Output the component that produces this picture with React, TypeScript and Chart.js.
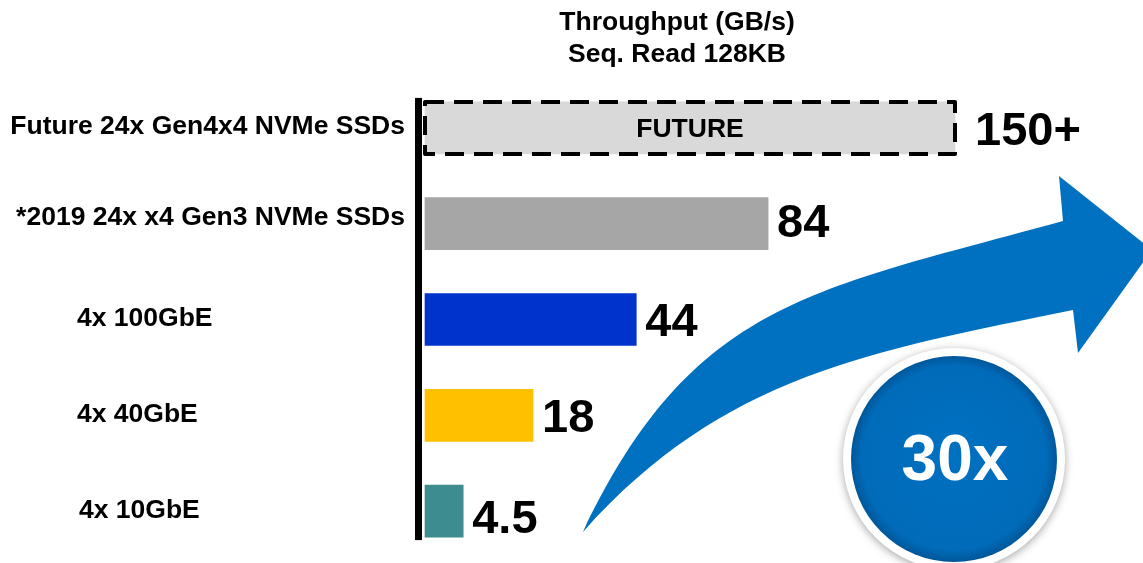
import React, { useEffect, useRef } from 'react';
import { Chart, registerables, LinearScale } from 'chart.js';

// ---------------- data ----------------
const categories = [
  'Future 24x Gen4x4 NVMe SSDs',
  '*2019 24x x4 Gen3 NVMe SSDs',
  '4x 100GbE',
  '4x 40GbE',
  '4x 10GbE',
];
const throughputGBs = [150, 84, 44, 18, 4.5];
const valueLabels = ['150+', '84', '44', '18', '4.5'];
const barColors = ['#D9D9D9', '#A6A6A6', '#0033CC', '#FFC000', '#3D8C8F'];
const titleLines = ['Throughput (GB/s)', 'Seq. Read 128KB'];
const futureTag = 'FUTURE';
const speedupLabel = '30x';

// ---------------- styles ----------------
const FONT = "'Liberation Sans', Arial, Helvetica, sans-serif";
const CAP = 0.716; // cap-height ratio of Arial / Liberation Sans
const SCALE_EXPONENT = 0.75; // the slide's bars grow sub-linearly with the value
const labelAnchors = [
  { x: 405, align: 'right' },
  { x: 405, align: 'right' },
  { x: 77, align: 'left' },
  { x: 77, align: 'left' },
  { x: 79, align: 'left' },
];

// A power-law value axis (hidden), so the bars follow the slide's compressed lengths
class PowerScale extends LinearScale {
  static id = 'power';
  static defaults = {};
  _f(v: number) {
    return Math.sign(v) * Math.pow(Math.abs(v), SCALE_EXPONENT);
  }
  getPixelForValue(value: number) {
    if (value === null || value === undefined || isNaN(value)) return NaN;
    const a = this._f(this.min);
    const b = this._f(this.max);
    return this.getPixelForDecimal((this._f(value) - a) / (b - a));
  }
  getValueForPixel(pixel: number) {
    const a = this._f(this.min);
    const b = this._f(this.max);
    const fv = a + this.getDecimalForPixel(pixel) * (b - a);
    return Math.sign(fv) * Math.pow(Math.abs(fv), 1 / SCALE_EXPONENT);
  }
}

Chart.register(...registerables, PowerScale);

function capText(ctx: CanvasRenderingContext2D, text: string, x: number, cy: number, size: number, align: CanvasTextAlign, color: string) {
  ctx.font = `bold ${size}px ${FONT}`;
  ctx.textAlign = align;
  ctx.textBaseline = 'alphabetic';
  ctx.fillStyle = color;
  ctx.fillText(text, x, cy + (CAP * size) / 2);
}

const decorations = {
  id: 'slideDecorations',
  afterDatasetsDraw(chart: any) {
    const ctx: CanvasRenderingContext2D = chart.ctx;
    const area = chart.chartArea;
    const meta = chart.getDatasetMeta(0);
    const bars = meta.data.map((el: any) => el.getProps(['x', 'y', 'base', 'height'], true));
    ctx.save();

    // title
    capText(ctx, titleLines[0], 677, 21, 26.5, 'center', '#000');
    capText(ctx, titleLines[1], 677, 53, 26.5, 'center', '#000');

    // vertical axis line
    const first = bars[0];
    const last = bars[bars.length - 1];
    ctx.fillStyle = '#000';
    ctx.fillRect(area.left - 10, first.y - first.height / 2 - 4, 7, last.y + last.height / 2 - (first.y - first.height / 2) + 7);

    // dashed outline of the future bar
    const fb = bars[0];
    ctx.setLineDash([19, 10]);
    ctx.lineWidth = 4;
    ctx.strokeStyle = '#000';
    ctx.lineJoin = 'round';
    ctx.strokeRect(fb.base, fb.y - fb.height / 2, fb.x - fb.base, fb.height);
    ctx.setLineDash([]);
    capText(ctx, futureTag, (fb.base + fb.x) / 2, fb.y, 26.5, 'center', '#000');

    // category labels
    const yScale = chart.scales.y;
    categories.forEach((c, i) => {
      const cy = yScale.getPixelForValue(i) - (i === 1 ? 8 : 3);
      capText(ctx, c, labelAnchors[i].x, cy, 26.5, labelAnchors[i].align as CanvasTextAlign, '#000');
    });

    // value labels
    bars.forEach((b: any, i: number) => {
      capText(ctx, valueLabels[i], b.x + (i === 0 ? 20 : 9), b.y + (i === 4 ? 5 : 0) - (i === 1 ? 4 : 0), 47, 'left', '#000');
    });

    // curved growth arrow
    ctx.beginPath();
    ctx.moveTo(583, 532);
    ctx.bezierCurveTo(693, 301, 813, 290, 1063, 221);
    ctx.lineTo(1059, 176);
    ctx.lineTo(1152, 250);
    ctx.lineTo(1078, 353);
    ctx.lineTo(1073, 310);
    ctx.bezierCurveTo(873, 351, 723, 374.5, 583, 532);
    ctx.closePath();
    ctx.fillStyle = '#0070C0';
    ctx.fill();

    // 30x badge
    const cx = 954, cy = 459;
    ctx.save();
    ctx.shadowColor = 'rgba(0,0,0,0.35)';
    ctx.shadowBlur = 8;
    ctx.shadowOffsetY = 2;
    ctx.beginPath();
    ctx.arc(cx, cy, 111, 0, Math.PI * 2);
    ctx.fillStyle = '#FFFFFF';
    ctx.fill();
    ctx.restore();
    const g = ctx.createRadialGradient(cx, cy - 10, 10, cx, cy, 103);
    g.addColorStop(0, '#0070C0');
    g.addColorStop(0.88, '#006BB9');
    g.addColorStop(1, '#00579A');
    ctx.beginPath();
    ctx.arc(cx, cy, 103, 0, Math.PI * 2);
    ctx.fillStyle = g;
    ctx.fill();
    capText(ctx, speedupLabel, cx + 1, cy - 2, 64, 'center', '#FFFFFF');

    ctx.restore();
  },
};

export default function App() {
  const ref = useRef<HTMLCanvasElement>(null);
  useEffect(() => {
    const chart = new Chart(ref.current as HTMLCanvasElement, {
      type: 'bar',
      data: {
        labels: categories,
        datasets: [
          {
            data: throughputGBs,
            backgroundColor: barColors,
            borderWidth: 0,
            barThickness: 52,
            clip: false as any,
          },
        ],
      },
      options: {
        indexAxis: 'y',
        animation: false,
        responsive: false,
        events: [],
        layout: { padding: { left: 425, right: 188, top: 80, bottom: 4 } },
        plugins: {
          legend: { display: false },
          title: { display: false },
          tooltip: { enabled: false },
        },
        scales: {
          x: {
            type: 'power' as any,
            min: 0,
            max: 150,
            display: false,
            grid: { display: false },
          },
          y: {
            type: 'category',
            display: false,
            offset: true,
            grid: { display: false },
          },
        },
      },
      plugins: [decorations],
    });
    return () => chart.destroy();
  }, []);
  return (
    <div style={{ position: 'absolute', left: 0, top: 0, width: 1143, height: 563, background: '#fff' }}>
      <canvas ref={ref} width={1143} height={563} style={{ display: 'block' }} />
    </div>
  );
}
